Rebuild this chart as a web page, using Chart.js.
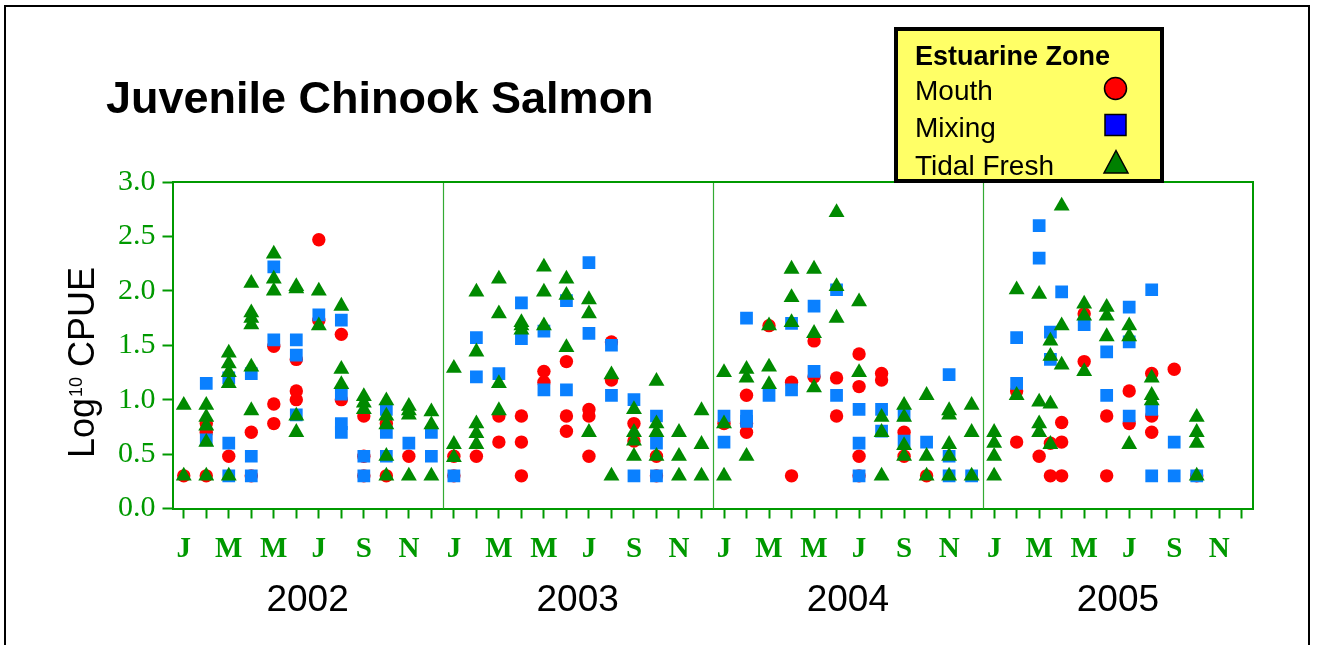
<!DOCTYPE html>
<html>
<head>
<meta charset="utf-8">
<title>Juvenile Chinook Salmon</title>
<script src="https://cdn.jsdelivr.net/npm/chart.js@4.4.1/dist/chart.umd.min.js"></script>
<style>
    html, body { margin: 0; padding: 0; background: #ffffff; overflow: hidden; }
    #wrap { width: 1318px; height: 645px; }
</style>
</head>
<body>
<div id="wrap"><canvas id="chart" width="1318" height="645"></canvas></div>
<script>
// Month index: 0 = Jan 2002 ... 47 = Dec 2005 (38.5 = mid Mar/Apr 2005 sampling)
const years = ['2002', '2003', '2004', '2005'];
const monthLetters = ['J', 'M', 'M', 'J', 'S', 'N'];   // every other month
const yTicks = [0, 0.5, 1.0, 1.5, 2.0, 2.5, 3.0];

// Log10 CPUE, [month, value]
const mouthPoints = [
    [0, 0.3], [1, 0.78], [1, 0.7], [1, 0.3], [2, 0.48], [3, 0.7], [3, 0.3],
    [4, 1.49], [4, 0.96], [4, 0.78], [5, 1.37], [5, 1.08], [5, 1.0],
    [6, 2.47], [6, 1.73], [7, 1.6], [7, 1.0], [8, 0.85], [8, 0.48], [8, 0.3],
    [9, 0.78], [9, 0.3], [10, 0.48],
    [12, 0.48], [12, 0.3], [13, 0.48], [14, 0.85], [14, 0.61], [15, 0.85], [15, 0.61], [15, 0.3],
    [16, 1.26], [16, 1.16], [17, 1.35], [17, 0.85], [17, 0.71], [18, 0.91], [18, 0.85], [18, 0.48],
    [19, 1.53], [19, 1.18], [20, 0.78], [20, 0.62], [21, 0.48], [21, 0.3],
    [24, 0.78], [25, 1.04], [25, 0.78], [25, 0.7], [26, 1.68], [27, 1.16], [27, 0.3],
    [28, 1.54], [28, 1.21], [29, 1.2], [29, 0.85], [30, 1.42], [30, 1.12], [30, 0.48], [30, 0.3],
    [31, 1.24], [31, 1.18], [32, 0.7], [32, 0.48], [33, 0.3],
    [37, 1.08], [37, 0.61], [38, 0.48], [38.5, 0.6], [38.5, 0.3], [39, 0.79], [39, 0.61], [39, 0.3],
    [40, 1.79], [40, 1.35], [41, 0.85], [41, 0.3], [42, 1.08], [42, 0.78],
    [43, 1.24], [43, 0.85], [43, 0.7], [44, 1.28], [45, 0.3]
];

const mixingPoints = [
    [1, 1.15], [1, 0.63], [2, 1.2], [2, 0.6], [2, 0.3], [3, 1.24], [3, 0.48], [3, 0.3],
    [4, 2.22], [4, 1.55], [5, 1.55], [5, 1.41], [5, 0.86], [6, 1.78],
    [7, 1.73], [7, 1.05], [7, 0.78], [7, 0.7], [8, 0.48], [8, 0.3],
    [9, 0.91], [9, 0.7], [9, 0.48], [10, 0.6], [11, 0.7], [11, 0.48],
    [12, 0.3], [13, 1.57], [13, 1.21], [14, 1.24], [15, 1.89], [15, 1.56],
    [16, 1.63], [16, 1.09], [17, 1.91], [17, 1.09], [18, 2.26], [18, 1.61],
    [19, 1.5], [19, 1.04], [20, 1.0], [20, 0.3], [21, 0.85], [21, 0.6], [21, 0.3],
    [24, 0.85], [24, 0.61], [25, 1.75], [25, 0.85], [25, 0.8], [26, 1.04],
    [27, 1.7], [27, 1.09], [28, 1.86], [28, 1.26], [29, 2.01], [29, 1.04],
    [30, 0.91], [30, 0.6], [30, 0.3], [31, 0.91], [31, 0.71], [32, 0.86], [32, 0.62],
    [33, 0.61], [34, 1.23], [34, 0.48], [34, 0.3], [35, 0.3],
    [37, 1.57], [37, 1.15], [38, 2.6], [38, 2.3], [38.5, 1.62], [38.5, 1.37], [39, 1.99],
    [40, 1.69], [41, 1.44], [41, 1.04], [42, 1.85], [42, 1.53], [42, 0.85],
    [43, 2.01], [43, 0.91], [43, 0.3], [44, 0.61], [44, 0.3], [45, 0.3]
];

const tidalPoints = [
    [0, 0.95], [0, 0.3], [1, 0.95], [1, 0.84], [1, 0.76], [1, 0.61], [1, 0.3],
    [2, 1.43], [2, 1.33], [2, 1.25], [2, 1.15], [2, 0.3],
    [3, 2.07], [3, 1.8], [3, 1.75], [3, 1.69], [3, 1.3], [3, 0.9],
    [4, 2.34], [4, 2.11], [4, 2.0], [5, 2.04], [5, 2.02], [5, 0.85], [5, 0.7],
    [6, 2.0], [6, 1.68], [7, 1.86], [7, 1.28], [7, 1.14], [8, 1.03], [8, 0.97], [8, 0.91],
    [9, 0.99], [9, 0.85], [9, 0.77], [9, 0.48], [9, 0.3], [10, 0.94], [10, 0.9], [10, 0.86], [10, 0.3],
    [11, 0.89], [11, 0.77], [11, 0.3],
    [12, 1.29], [12, 0.59], [12, 0.47], [13, 1.99], [13, 1.44], [13, 0.78], [13, 0.69], [13, 0.59],
    [14, 2.11], [14, 1.79], [14, 1.15], [14, 0.9], [15, 1.71], [15, 1.68], [15, 1.64],
    [16, 2.22], [16, 1.99], [16, 1.68], [17, 2.11], [17, 1.96], [17, 1.48],
    [18, 1.92], [18, 1.79], [18, 0.7], [19, 1.23], [19, 0.3],
    [20, 0.91], [20, 0.7], [20, 0.62], [20, 0.48], [21, 1.17], [21, 0.78], [21, 0.7], [21, 0.48],
    [22, 0.7], [22, 0.48], [22, 0.3], [23, 0.9], [23, 0.59], [23, 0.3],
    [24, 1.25], [24, 0.78], [24, 0.3], [25, 1.28], [25, 1.2], [25, 0.48],
    [26, 1.68], [26, 1.3], [26, 1.14], [27, 2.2], [27, 1.94], [27, 1.71],
    [28, 2.2], [28, 1.61], [28, 1.11], [29, 2.72], [29, 2.04], [29, 1.75], [30, 1.9], [30, 1.25],
    [31, 0.84], [31, 0.7], [31, 0.3], [32, 0.95], [32, 0.84], [32, 0.58], [32, 0.48],
    [33, 1.04], [33, 0.48], [33, 0.3], [34, 0.9], [34, 0.86], [34, 0.59], [34, 0.48], [34, 0.3],
    [35, 0.95], [35, 0.7], [35, 0.3],
    [36, 0.7], [36, 0.6], [36, 0.48], [36, 0.3], [37, 2.01], [37, 1.04],
    [38, 1.97], [38, 0.98], [38, 0.78], [38, 0.7], [38.5, 1.54], [38.5, 1.4], [38.5, 0.96], [38.5, 0.59],
    [39, 2.78], [39, 1.68], [39, 1.32], [40, 1.88], [40, 1.77], [40, 1.26],
    [41, 1.85], [41, 1.77], [41, 1.58], [42, 1.68], [42, 1.58], [42, 0.59],
    [43, 1.2], [43, 1.04], [43, 0.99], [45, 0.84], [45, 0.7], [45, 0.6], [45, 0.3]
];

const GREEN = '#009900';
const toXY = pts => pts.map(p => ({ x: p[0], y: p[1] }));

// Frame, title, year labels, axis title and the yellow legend box
const decorPlugin = {
    id: 'decor',
    beforeDraw(chart) {
        const ctx = chart.ctx;
        ctx.save();
        ctx.fillStyle = '#ffffff';
        ctx.fillRect(0, 0, chart.width, chart.height);
        ctx.strokeStyle = '#000000';
        ctx.lineWidth = 2;
        ctx.strokeRect(5, 6, 1304, 700);
        ctx.restore();
    },
    beforeDatasetsDraw(chart) {
        const ctx = chart.ctx;
        const area = chart.chartArea;
        const xs = chart.scales.x;
        ctx.save();
        // year separators
        ctx.strokeStyle = '#33aa33';
        ctx.lineWidth = 1.2;
        [11.5, 23.5, 35.5].forEach(v => {
            const px = Math.round(xs.getPixelForValue(v)) + 0.5;
            ctx.beginPath();
            ctx.moveTo(px, area.top);
            ctx.lineTo(px, area.bottom);
            ctx.stroke();
        });
        // top and right frame of the plot
        ctx.strokeStyle = GREEN;
        ctx.lineWidth = 2;
        ctx.beginPath();
        ctx.moveTo(area.left, area.top);
        ctx.lineTo(area.right, area.top);
        ctx.lineTo(area.right, area.bottom);
        ctx.stroke();
        ctx.restore();
    },
    afterDraw(chart) {
        const ctx = chart.ctx;
        const xs = chart.scales.x;
        ctx.save();

        // title
        ctx.fillStyle = '#000000';
        ctx.textAlign = 'left';
        ctx.textBaseline = 'alphabetic';
        ctx.font = 'bold 45px "Liberation Sans", Arial, sans-serif';
        ctx.fillText('Juvenile Chinook Salmon', 106, 113);

        // year labels under the month letters
        ctx.font = '37px "Liberation Sans", Arial, sans-serif';
        ctx.textAlign = 'center';
        years.forEach((yr, i) => {
            ctx.fillText(yr, xs.getPixelForValue(i * 12 + 5.5), 611);
        });

        // y axis title: Log10 CPUE with superscript
        ctx.save();
        ctx.translate(94, 458);
        ctx.rotate(-Math.PI / 2);
        ctx.textAlign = 'left';
        ctx.font = '36px "Liberation Sans", Arial, sans-serif';
        ctx.fillText('Log', 0, 0);
        let w = ctx.measureText('Log').width + 1;
        ctx.font = '18px "Liberation Sans", Arial, sans-serif';
        ctx.fillText('10', w, -12);
        w += ctx.measureText('10').width;
        ctx.font = '36px "Liberation Sans", Arial, sans-serif';
        ctx.fillText(' CPUE', w, 0);
        ctx.restore();

        // legend box
        ctx.fillStyle = '#ffff66';
        ctx.fillRect(896, 29, 266, 152);
        ctx.strokeStyle = '#000000';
        ctx.lineWidth = 4;
        ctx.strokeRect(896, 29, 266, 152);

        ctx.fillStyle = '#000000';
        ctx.textAlign = 'left';
        ctx.font = 'bold 27px "Liberation Sans", Arial, sans-serif';
        ctx.fillText('Estuarine Zone', 915, 65);
        ctx.font = '28px "Liberation Sans", Arial, sans-serif';
        ctx.fillText('Mouth', 915, 100);
        ctx.fillText('Mixing', 915, 137);
        ctx.fillText('Tidal Fresh', 915, 175);

        ctx.lineWidth = 1.5;
        ctx.strokeStyle = '#000000';
        // circle
        ctx.fillStyle = '#ff0000';
        ctx.beginPath();
        ctx.arc(1115.5, 88.5, 11, 0, Math.PI * 2);
        ctx.fill();
        ctx.stroke();
        // square
        ctx.fillStyle = '#0000ff';
        ctx.fillRect(1105, 114.5, 21, 21);
        ctx.strokeRect(1105, 114.5, 21, 21);
        // triangle
        ctx.fillStyle = '#008000';
        ctx.beginPath();
        ctx.moveTo(1116, 150.5);
        ctx.lineTo(1128, 173);
        ctx.lineTo(1104, 173);
        ctx.closePath();
        ctx.fill();
        ctx.stroke();

        ctx.restore();
    }
};

const ctx = document.getElementById('chart').getContext('2d');
const chart = new Chart(ctx, {
    type: 'scatter',
    data: {
        datasets: [
            {
                label: 'Mouth',
                data: toXY(mouthPoints),
                pointStyle: 'circle',
                pointRadius: 6.7,
                backgroundColor: '#ff0000',
                borderWidth: 0,
                order: 3
            },
            {
                label: 'Mixing',
                data: toXY(mixingPoints),
                pointStyle: 'rect',
                pointRadius: 9,
                backgroundColor: '#0a80ff',
                borderWidth: 0,
                order: 2
            },
            {
                label: 'Tidal Fresh',
                data: toXY(tidalPoints),
                pointStyle: 'triangle',
                pointRadius: 9.2,
                backgroundColor: '#008a00',
                borderWidth: 0,
                order: 1
            }
        ]
    },
    options: {
        responsive: false,
        animation: false,
        devicePixelRatio: 1,
        events: [],
        layout: {
            padding: { top: 182, right: 65, left: 0, bottom: 0 }
        },
        plugins: {
            legend: { display: false },
            tooltip: { enabled: false },
            title: { display: false }
        },
        scales: {
            x: {
                type: 'linear',
                min: -0.5,
                max: 47.5,
                afterBuildTicks: axis => {
                    const t = [];
                    for (let m = 0; m < 48; m++) t.push({ value: m });
                    axis.ticks = t;
                },
                afterFit: axis => { axis.height = 136.5; },
                ticks: {
                    autoSkip: false,
                    maxRotation: 0,
                    minRotation: 0,
                    padding: 14,
                    color: GREEN,
                    font: { family: '"Liberation Serif", "Times New Roman", serif', size: 29, weight: 'bold' },
                    callback: v => (v % 2 === 0 ? monthLetters[(v % 12) / 2] : '')
                },
                grid: {
                    drawOnChartArea: false,
                    drawTicks: true,
                    tickLength: 10,
                    tickWidth: 2,
                    color: GREEN
                },
                border: { color: GREEN, width: 2 }
            },
            y: {
                min: 0,
                max: 3,
                afterBuildTicks: axis => {
                    axis.ticks = yTicks.map(v => ({ value: v }));
                },
                afterFit: axis => { axis.width = 172.5; },
                ticks: {
                    padding: 7,
                    color: GREEN,
                    font: { family: '"Liberation Serif", "Times New Roman", serif', size: 30 },
                    callback: v => Number(v).toFixed(1)
                },
                grid: {
                    drawOnChartArea: false,
                    drawTicks: true,
                    tickLength: 10,
                    tickWidth: 2,
                    color: GREEN
                },
                border: { color: GREEN, width: 2 }
            }
        }
    },
    plugins: [decorPlugin]
});
</script>
</body>
</html>
